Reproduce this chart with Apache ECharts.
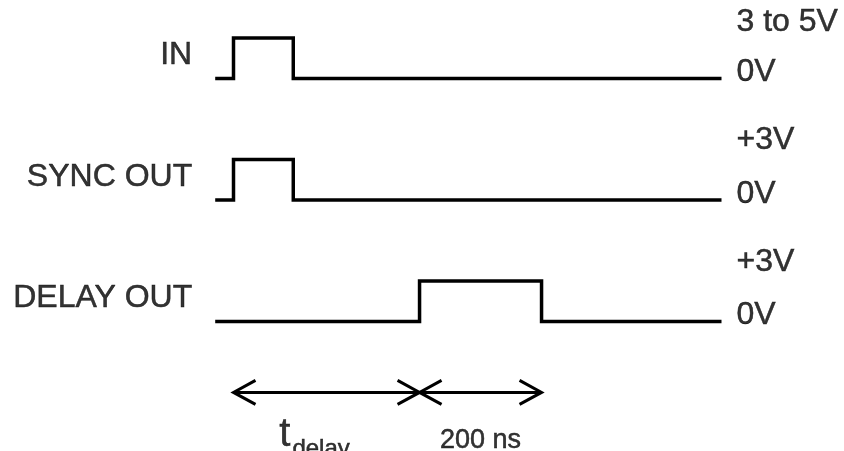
<!DOCTYPE html>
<html><head><meta charset="utf-8">
<script src="https://cdn.jsdelivr.net/npm/echarts@6/dist/echarts.min.js"></script>
<style>html,body{margin:0;padding:0;background:#fff}#c{width:844px;height:451px}</style>
</head><body><div id="c"></div>
<script>
// ---- data (time in ns, level in row units) ----
const signalNames = ['IN', 'SYNC OUT', 'DELAY OUT'];
const rowBase = [12, 6, 0];
const pulseHeight = 2;
const highLabels = ['3 to 5V', '+3V', '+3V'];
const lowLabels = ['0V', '0V', '0V'];
const traceStart = -30;
const traceEnd = 800;
const pulseStart = [0, 0, 305];
const pulseEnd = [98, 98, 505];
const spanStart = [0, 305];
const spanEnd = [305, 505];
const spanLevel = -3.5;
const spanLabels = ['t|delay', '200 ns'];

const FONT = '"Liberation Sans", Arial, sans-serif';
const TXT = {color: '#000', fontFamily: FONT, textBorderColor: '#000', textBorderWidth: 0.5};
const chart = echarts.init(document.getElementById('c'), null, {renderer: 'canvas'});

const series = [];
signalNames.forEach((name, i) => {
  const b = rowBase[i], h = b + pulseHeight;
  series.push({
    type: 'line', name, showSymbol: false, symbol: 'none', animation: false,
    lineStyle: {color: '#000', width: 3.5, join: 'miter', cap: 'butt'},
    data: [[traceStart, b], [pulseStart[i], b], [pulseStart[i], h], [pulseEnd[i], h], [pulseEnd[i], b], [traceEnd, b]]
  });
});

// signal names (left)
series.push({
  type: 'scatter', symbolSize: 0, animation: false, silent: true,
  data: signalNames.map((n, i) => ({name: n, value: [traceStart, rowBase[i] + 1.15]})),
  label: Object.assign({show: true, position: 'left', distance: 23, formatter: '{b}', fontSize: 32}, TXT)
});
// level labels (right)
series.push({
  type: 'scatter', symbolSize: 0, animation: false, silent: true,
  data: highLabels.map((n, i) => ({name: n, value: [traceEnd, rowBase[i] + 2.95], label: i === 0 ? {offset: [0, 3]} : {}}))
    .concat(lowLabels.map((n, i) => ({name: n, value: [traceEnd, rowBase[i] + 0.3]}))),
  label: Object.assign({show: true, position: 'right', distance: 15, formatter: '{b}', fontSize: 32}, TXT)
});

// dimension arrows
series.push({
  type: 'custom', animation: false, silent: true,
  data: spanStart.map((s, i) => [s, spanEnd[i], spanLevel]),
  renderItem: function (params, api) {
    const p0 = api.coord([api.value(0), api.value(2)]);
    const p1 = api.coord([api.value(1), api.value(2)]);
    const dx = 22, dy = 12;
    const st = {stroke: '#000', lineWidth: 3, fill: null, lineJoin: 'miter'};
    return {type: 'group', children: [
      {type: 'line', shape: {x1: p0[0], y1: p0[1], x2: p1[0], y2: p1[1]}, style: st},
      {type: 'polyline', shape: {points: [[p0[0] + dx, p0[1] - dy], [p0[0], p0[1]], [p0[0] + dx, p0[1] + dy]]}, style: st},
      {type: 'polyline', shape: {points: [[p1[0] - dx, p1[1] - dy], [p1[0], p1[1]], [p1[0] - dx, p1[1] + dy]]}, style: st}
    ]};
  }
});

// arrow texts
series.push({
  type: 'scatter', symbolSize: 0, animation: false, silent: true,
  data: spanLabels.map((n, i) => ({
    name: n, value: [(spanStart[i] + spanEnd[i]) / 2, spanLevel - 2.3],
    label: n.indexOf('|') >= 0 ? {offset: [-12, 0]} : {offset: [0, 2]}
  })),
  label: Object.assign({
    show: true, position: 'inside', fontSize: 27,
    formatter: function (p) {
      const parts = p.name.split('|');
      return parts.length > 1 ? '{t|' + parts[0] + '}{s|' + parts[1] + '}' : p.name;
    },
    rich: {
      t: Object.assign({fontSize: 40, lineHeight: 44, verticalAlign: 'bottom', padding: [0, 2, 6, 0]}, TXT),
      s: Object.assign({fontSize: 24, lineHeight: 44, verticalAlign: 'bottom'}, TXT)
    }
  }, TXT)
});

chart.setOption({
  animation: false,
  backgroundColor: '#fff',
  grid: {left: 203, width: 549, top: 17.75, height: 425.25},
  xAxis: {type: 'value', min: -50, max: 850, show: false},
  yAxis: {type: 'value', min: -6, max: 15, show: false},
  series
});
</script></body></html>
